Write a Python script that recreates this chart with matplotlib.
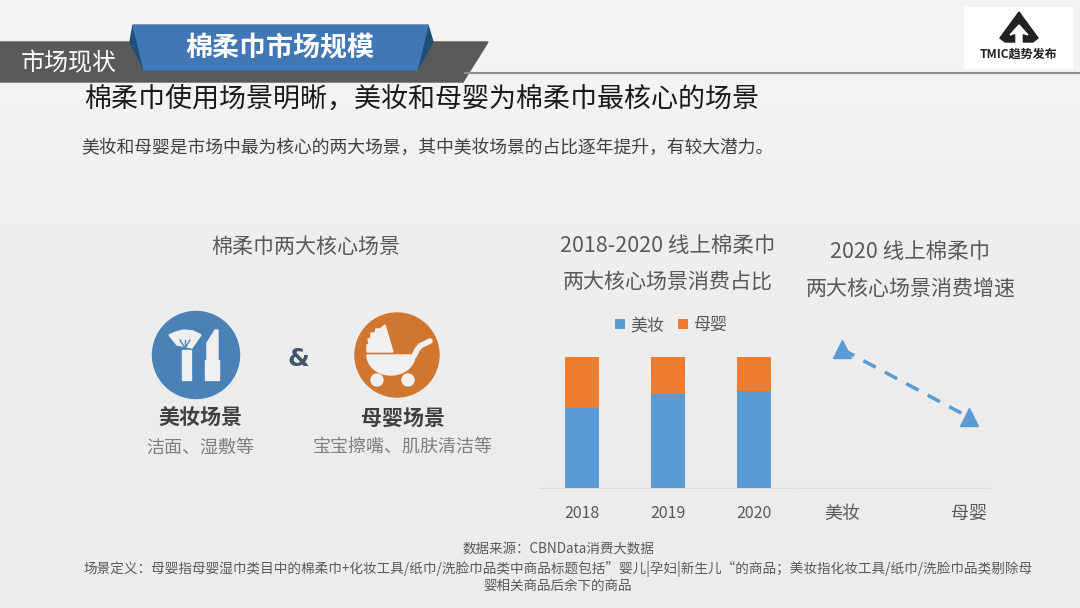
import numpy as np
import matplotlib
matplotlib.use('Agg')
import matplotlib.pyplot as plt
from matplotlib.patches import Polygon, Circle, Rectangle

plt.rcParams['font.family'] = ['Noto Sans CJK SC', 'DejaVu Sans']

# chart data
years = ['2018', '2019', '2020']
beauty_share = [0.61, 0.72, 0.74]
baby_share = [0.39, 0.28, 0.26]
growth_labels = ['美妆', '母婴']
growth_values = [1.06, 0.54]

W, H = 1080, 608
BLUE = '#5b9bd5'
ORANGE = '#ed7d31'
ICON = '#f0f0f0'
GREY = '#595959'


def px(size):
    return size * 72 / 100


def axes_at(fig, left, top, right, bottom):
    return fig.add_axes([left / W, 1 - bottom / H, (right - left) / W, (bottom - top) / H])


def label(x, y, s, size, color=GREY, ha='center', weight='normal'):
    # CJK text sits a little high with va=center, nudge it down
    bg.text(x, y + 2.5, s, color=color, fontsize=px(size), ha=ha, va='center', fontweight=weight)


fig = plt.figure(figsize=(10.8, 6.08), dpi=100)

# background and all the slide furniture, in pixel coordinates
bg = fig.add_axes([0, 0, 1, 1])
bg.set_xlim(0, W)
bg.set_ylim(H, 0)
bg.axis('off')
shade = np.array([[243], [238], [236], [236]])
bg.imshow(shade, cmap='gray', vmin=0, vmax=255, extent=[0, W, H, 0], aspect='auto', interpolation='bilinear')

# header ribbon
bg.plot([465, W], [73, 73], color='#8c8c8c', lw=1.5)
bg.add_patch(Polygon([(0, 42), (488, 42), (463, 82), (0, 82)], color=GREY))
bg.add_patch(Polygon([(130, 42), (133, 25), (144, 70)], color='#1f4e79'))
bg.add_patch(Polygon([(433, 42), (428, 25), (417, 70)], color='#1f4e79'))
bg.add_patch(Polygon([(133, 25), (428, 25), (417, 70), (144, 70)], color='#4277b5'))
label(69, 61, '市场现状', 24, color='white')
label(280, 45, '棉柔巾市场规模', 27, color='white', weight='bold')

# logo
bg.add_patch(Rectangle((964, 7), 108, 61, color='white'))
bg.add_patch(Polygon([(1019, 12), (1038, 38), (1033, 42), (1005, 42), (1000, 38)], color='#222222'))
bg.add_patch(Polygon([(1019, 25), (1028, 35), (1022, 33), (1022, 44), (1016, 44), (1016, 33), (1010, 35)], color='white'))
label(1018, 52, 'TMIC趋势发布', 12, color='#222222', weight='bold')

# headline
label(84, 97, '棉柔巾使用场景明晰，美妆和母婴为棉柔巾最核心的场景', 27, color='#1a1a1a', ha='left')
label(81, 145, '美妆和母婴是市场中最为核心的两大场景，其中美妆场景的占比逐年提升，有较大潜力。', 17.8, color='#404040', ha='left')

# left panel, brush and lipstick icon
label(306, 244, '棉柔巾两大核心场景', 21)
bg.add_patch(Circle((196, 355), 43.5, color='#4a82b8'))
bg.add_patch(Polygon([(169, 335), (176, 332), (184, 330), (193, 331), (201, 335), (192, 348), (177, 345)], color=ICON))
bg.add_patch(Rectangle((182, 350), 9, 30, color=ICON))
for tip in [(180, 340), (185, 340), (190, 340)]:
    bg.plot([185, tip[0]], [348, tip[1]], color='#4a82b8', lw=1)
bg.add_patch(Rectangle((205, 360), 14, 20, color=ICON))
bg.add_patch(Polygon([(207, 361), (207, 343), (215, 330), (218, 330), (218, 361)], color=ICON))
bg.text(298, 359, '&', color='#44546a', fontsize=px(25), ha='center', va='center', fontweight='bold', family='DejaVu Sans')

# stroller icon
bg.add_patch(Circle((397, 355), 42, color='#d0762f'))
bg.add_patch(Polygon([(367, 352), (367, 345), (369, 344), (368, 339), (371, 338), (371, 333), (375, 333), (376, 329),
                      (380, 329), (385, 325), (393, 352)], color=ICON))
theta = np.linspace(0, np.pi, 40)
bowl = np.column_stack([391 + 24 * np.cos(theta), 355 + 20 * np.sin(theta)])
bg.add_patch(Polygon(bowl, color=ICON))
bg.plot([414, 417, 420, 424, 430], [356, 350, 346, 344, 341], color=ICON, lw=4, solid_capstyle='round')
bg.add_patch(Circle((377, 380), 6, color=ICON))
bg.add_patch(Circle((408, 380), 6, color=ICON))

label(200, 416, '美妆场景', 21, color='#404040', weight='bold')
label(200, 445, '洁面、湿敷等', 18, color='#7f7f7f')
label(403, 416, '母婴场景', 21, color='#404040', weight='bold')
label(403, 445, '宝宝擦嘴、肌肤清洁等', 18, color='#7f7f7f')

# chart titles
label(668, 244, '2018-2020 线上棉柔巾', 21.5)
label(668, 280, '两大核心场景消费占比', 21)
label(910, 250, '2020 线上棉柔巾', 21.5)
label(911, 286, '两大核心场景消费增速', 21)

# footer
label(558, 547, '数据来源：CBNData消费大数据', 13.5)
label(558, 566, '场景定义：母婴指母婴湿巾类目中的棉柔巾+化妆工具/纸巾/洗脸巾品类中商品标题包括”婴儿|孕妇|新生儿“的商品；美妆指化妆工具/纸巾/洗脸巾品类剔除母', 13.6)
label(558, 583, '婴相关商品后余下的商品', 13.5)

# stacked bars
ax = axes_at(fig, 539, 337, 797, 488)
ax.patch.set_alpha(0)
xs = np.arange(len(years))
b1 = ax.bar(xs, beauty_share, width=0.4, color=BLUE, label='美妆')
b2 = ax.bar(xs, baby_share, width=0.4, bottom=beauty_share, color=ORANGE, label='母婴')
ax.set_xlim(-0.5, 2.5)
ax.set_ylim(0, 1.153)
ax.set_xticks(xs, years)
ax.set_yticks([])
ax.tick_params(axis='x', length=0, pad=12, labelsize=px(16), labelcolor=GREY)
for s in ['top', 'left', 'right']:
    ax.spines[s].set_visible(False)
ax.spines['bottom'].set_color('#d9d9d9')
fig.legend(handles=[b1, b2], loc='center', bbox_to_anchor=(671 / W, 1 - 325 / H), ncol=2, frameon=False,
           fontsize=px(17), labelcolor=GREY, handlelength=0.6, handleheight=0.6, handletextpad=0.3, columnspacing=0.8)

# growth line
ax2 = axes_at(fig, 797, 337, 990, 488)
ax2.patch.set_alpha(0)
ax2.plot([0, 1], growth_values, color=BLUE, ls='--', lw=2.5, dashes=(4, 3), marker='^', ms=13, clip_on=False)
ax2.set_xlim(-0.354, 1.165)
ax2.set_ylim(0, 1.153)
ax2.set_xticks([0, 1], growth_labels)
ax2.set_yticks([])
ax2.tick_params(axis='x', length=0, pad=12, labelsize=px(18), labelcolor=GREY)
for s in ['top', 'left', 'right']:
    ax2.spines[s].set_visible(False)
ax2.spines['bottom'].set_color('#d9d9d9')

fig.savefig('out.png', dpi=100)
